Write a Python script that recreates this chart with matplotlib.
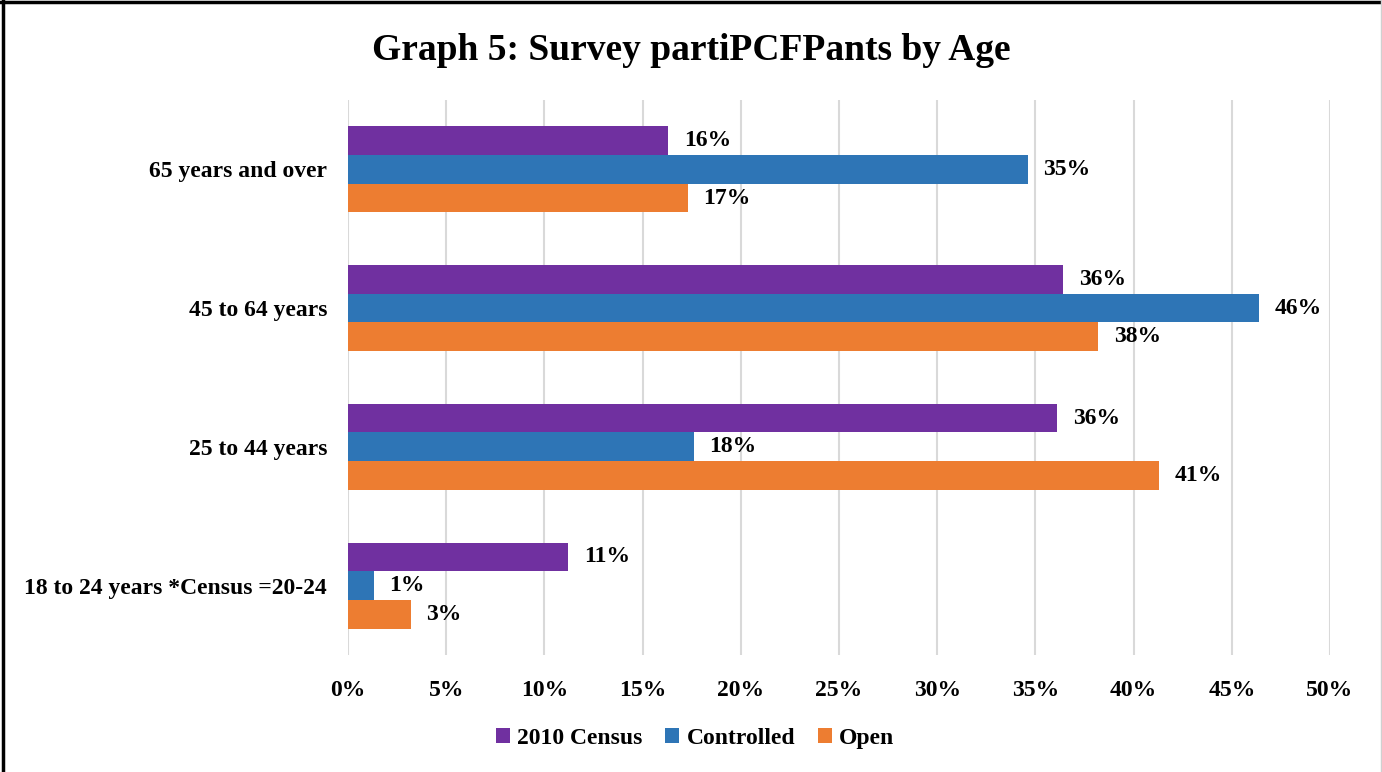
import matplotlib.pyplot as plt
from matplotlib.lines import Line2D
from matplotlib.patches import Patch
import numpy as np

plt.rcParams['font.family'] = ['Liberation Serif', 'DejaVu Serif']
plt.rcParams['font.weight'] = 'bold'

ages = ['18 to 24 years *Census =20-24', '25 to 44 years', '45 to 64 years', '65 years and over']
census = [11.2, 36.1, 36.4, 16.3]
controlled = [1.3, 17.6, 46.4, 34.6]
open_ = [3.2, 41.3, 38.2, 17.3]
series = ['2010 Census', 'Controlled', 'Open']
colors = ['#7030A0', '#2E75B6', '#ED7D31']

fig = plt.figure(figsize=(13.82, 7.72), dpi=100)
ax = fig.add_axes([0.2518, 0.1516, 0.7106, 0.7189])

y = np.arange(len(ages))
h = 0.207
for vals, off, col in zip([census, controlled, open_], [h, 0, -h], colors):
    bars = ax.barh(y + off, vals, height=h, color=col, zorder=3)
    for b, v in zip(bars, vals):
        ax.text(v + 0.8, b.get_y() + h / 2, f'{v:.0f}%', va='center', ha='left',
                fontsize=17, fontweight='bold')

ax.set_xlim(0, 50)
ax.set_ylim(-0.5, 3.5)
ax.set_xticks(np.arange(0, 51, 5))
ax.set_xticklabels([f'{t}%' for t in range(0, 51, 5)])
ax.set_yticks(y)
ax.set_yticklabels(ages)
ax.tick_params(axis='both', length=0, labelsize=17)
ax.tick_params(axis='x', pad=18)
ax.tick_params(axis='y', pad=15)
ax.grid(axis='x', color='#d9d9d9', linewidth=1.5, zorder=0)
for s in ax.spines.values():
    s.set_visible(False)

fig.suptitle('Graph 5: Survey partiPCFPants by Age', x=0.5, y=0.934, va='center',
             fontsize=27, fontweight='bold')

handles = [Patch(facecolor=c) for c in colors]
fig.legend(handles, series, loc='center', bbox_to_anchor=(0.503, 0.043), ncol=3,
           frameon=False, fontsize=17, handlelength=0.6, handleheight=0.6,
           handletextpad=0.3, columnspacing=0.95)

# outer frame
fig.add_artist(Line2D([0.002, 0.002], [0, 1], transform=fig.transFigure, color='black', lw=2.5))
fig.add_artist(Line2D([0, 1], [0.998, 0.998], transform=fig.transFigure, color='black', lw=2.5))
fig.add_artist(Line2D([0.9995, 0.9995], [0, 1], transform=fig.transFigure, color='#d0d0d0', lw=1))

fig.savefig('out.png', dpi=100)
